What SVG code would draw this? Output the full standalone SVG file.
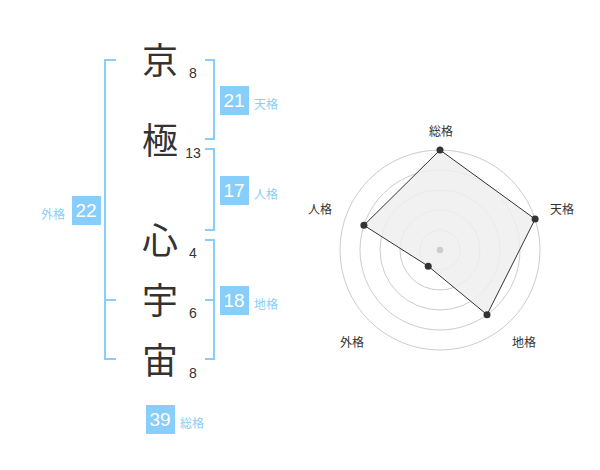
<svg xmlns="http://www.w3.org/2000/svg" width="600" height="470" viewBox="0 0 600 470">
<style>
.kanji{font-family:"Noto Sans CJK JP","Noto Sans CJK SC",sans-serif;font-size:36px;fill:#333;text-anchor:middle}
.stroke{font-family:"Liberation Sans",Arial,sans-serif;font-size:14px;fill:#333;text-anchor:middle}
.box{fill:#87cefa}
.num{font-family:"Liberation Sans",Arial,sans-serif;font-size:19px;fill:#fff;text-anchor:middle}
.lbl{font-family:"Noto Sans CJK JP","Noto Sans CJK SC",sans-serif;font-size:12px;fill:#87cefa}
.br{fill:none;stroke:#87cefa;stroke-width:2}
.ring{fill:none;stroke:#cccccc;stroke-width:1}
.axl{font-family:"Noto Sans CJK JP","Noto Sans CJK SC",sans-serif;font-size:12px;fill:#333;text-anchor:middle}
.dot{fill:#333}
</style>
<rect width="600" height="470" fill="#fff"/>
<g id="connectors">
<path class="br" d="M116,60 H105 V359 H116 M105,300 H116"/>
<path class="br" d="M205,60 H214 V139 H205"/>
<path class="br" d="M205,149 H214 V230 H205"/>
<path class="br" d="M205,240 H214 V359 H205 M205,300 H214"/>
</g>
<g id="name">
<g id="c1"><text class="kanji" x="160" y="74">京</text><text class="stroke" x="193" y="78">8</text></g>
<g id="c2"><text class="kanji" x="160" y="154">極</text><text class="stroke" x="193" y="158">13</text></g>
<g id="c3"><text class="kanji" x="160" y="254">心</text><text class="stroke" x="193" y="258">4</text></g>
<g id="c4"><text class="kanji" x="160" y="314">宇</text><text class="stroke" x="193" y="318">6</text></g>
<g id="c5"><text class="kanji" x="160" y="374">宙</text><text class="stroke" x="193" y="378">8</text></g>
</g>
<g id="tenkaku"><rect class="box" x="220" y="86" width="29" height="29"/><text class="num" x="234" y="107">21</text><text class="lbl" x="254" y="109">天格</text></g>
<g id="jinkaku"><rect class="box" x="220" y="176" width="29" height="29"/><text class="num" x="234" y="197">17</text><text class="lbl" x="254" y="199">人格</text></g>
<g id="chikaku"><rect class="box" x="220" y="286" width="29" height="29"/><text class="num" x="234" y="307">18</text><text class="lbl" x="254" y="309">地格</text></g>
<g id="gaikaku"><rect class="box" x="72" y="196" width="29" height="29"/><text class="num" x="86" y="217">22</text><text class="lbl" x="41" y="219">外格</text></g>
<g id="soukaku"><rect class="box" x="146" y="405" width="29" height="29"/><text class="num" x="160" y="426">39</text><text class="lbl" x="180" y="428">総格</text></g>
<g id="radar">
<circle class="ring" cx="440" cy="250" r="20"/>
<circle class="ring" cx="440" cy="250" r="40"/>
<circle class="ring" cx="440" cy="250" r="60"/>
<circle class="ring" cx="440" cy="250" r="80"/>
<circle class="ring" cx="440" cy="250" r="100"/>
<polygon points="440,150 535.1,219.1 487,314.7 428.2,266.2 363.9,225.3" fill="#efefef" fill-opacity="0.85" stroke="#333" stroke-width="1"/>
<circle cx="440" cy="250" r="3.3" fill="#cccccc"/>
<circle class="dot" cx="440" cy="150" r="3.5"/>
<circle class="dot" cx="535.1" cy="219.1" r="3.5"/>
<circle class="dot" cx="487" cy="314.7" r="3.5"/>
<circle class="dot" cx="428.2" cy="266.2" r="3.5"/>
<circle class="dot" cx="363.9" cy="225.3" r="3.5"/>
<text class="axl" x="441" y="136">総格</text>
<text class="axl" x="562" y="214">天格</text>
<text class="axl" x="524" y="347">地格</text>
<text class="axl" x="352" y="347">外格</text>
<text class="axl" x="320" y="214">人格</text>
</g>
</svg>
